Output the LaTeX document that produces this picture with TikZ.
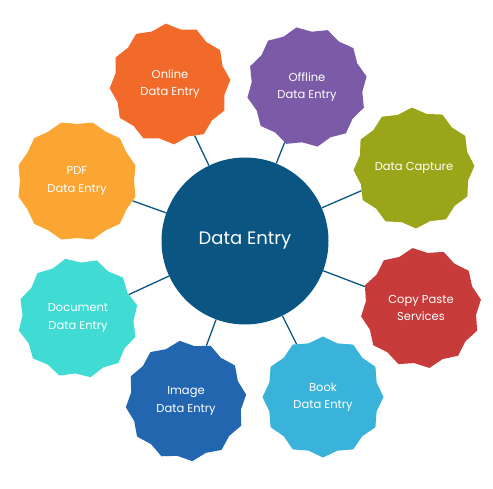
\documentclass[tikz,border=0pt]{standalone}
\usepackage{fontspec}
\setmainfont{Poppins}
\usetikzlibrary{shapes.geometric}

\definecolor{coreblue}{HTML}{0A5582}
\definecolor{onlineorange}{HTML}{F26A2A}
\definecolor{offlinepurple}{HTML}{7B5BA8}
\definecolor{captureolive}{HTML}{9AA51A}
\definecolor{copyred}{HTML}{C73B3B}
\definecolor{booksky}{HTML}{3AB3DA}
\definecolor{imageblue}{HTML}{2366B0}
\definecolor{docteal}{HTML}{40DCD3}
\definecolor{pdfyellow}{HTML}{FBA532}

\tikzset{
  burst/.style={star, star points=12, star point ratio=1.09, minimum size=121pt,
    inner sep=0pt, draw=none, text=white, align=center,
    font=\fontsize{11.5}{17.5}\selectfont},
  spoke/.style={coreblue, line width=1.3pt}
}

\begin{document}
\begin{tikzpicture}[x=1pt, y=-1pt]
  \useasboundingbox (0,0) rectangle (493,488);
  % centre circle
  \node[circle, fill=coreblue, minimum size=167pt, inner sep=0pt, text=white,
        font=\fontsize{18}{20}\selectfont] (core) at (245,241) {Data Entry};
  % the eight bursts, clockwise from top left
  \node[burst, fill=onlineorange, shape border rotate=4] (online) at (170,84) {Online\\Data Entry};
  \node[burst, fill=offlinepurple, shape border rotate=10] (offline) at (307,87) {Offline\\Data Entry};
  \node[burst, fill=captureolive, shape border rotate=2] (capture) at (414,168) {Data Capture};
  \node[burst, fill=copyred, shape border rotate=8] (copy) at (421,308) {Copy Paste\\Services};
  \node[burst, fill=booksky] (book) at (323,397) {Book\\Data Entry};
  \node[burst, fill=imageblue, shape border rotate=6] (image) at (186,401) {Image\\Data Entry};
  \node[burst, fill=docteal, shape border rotate=12] (doc) at (78,318) {Document\\Data Entry};
  \node[burst, fill=pdfyellow, shape border rotate=15, star point ratio=1.06] (pdf) at (77,181) {PDF\\Data Entry};
  % spokes
  \foreach \leaf in {online,offline,capture,copy,book,image,doc,pdf}
    \draw[spoke] (core) -- (\leaf);
\end{tikzpicture}
\end{document}
